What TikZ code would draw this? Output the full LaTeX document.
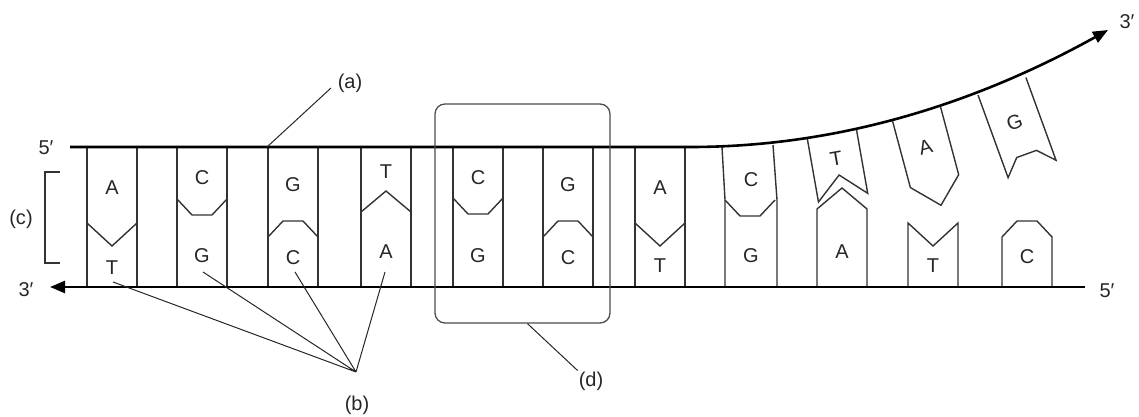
\documentclass[tikz,border=0pt]{standalone}
\usepackage{fontspec}
\setmainfont{Liberation Sans}
\usetikzlibrary{arrows.meta}
\begin{document}
\begin{tikzpicture}[x=1pt,y=-1pt,
  strand/.style={line width=2.6pt, black},
  base/.style={line width=1.4pt, black!80, line join=miter},
  leader/.style={line width=1pt, black!85},
  frame/.style={draw, line width=1.3pt, black!70, rounded corners=10pt},
  letter/.style={font=\fontsize{20}{24}\selectfont, inner sep=0pt, text=black!85},
  tag/.style={font=\fontsize{20}{24}\selectfont, inner sep=1pt, text=black!85},
  tip/.style={-{Triangle[length=15pt,width=12pt]}},
  vjoin/.pic={\draw[base] (0,0) -- (25,23) -- (50,0);},
  ljoin/.pic={\draw[base] (0,0) -- (25,-21) -- (50,0);},
  dnjoin/.pic={\draw[base] (0,0) -- (15,16) -- (35,16) -- (50,0);},
  upjoin/.pic={\draw[base] (0,0) -- (15,-16) -- (35,-16) -- (50,0);},
]
\useasboundingbox (0,0) rectangle (1139,417);

% paired columns: side walls
\foreach \x in {87,177,268,361,453,543,635}
  \draw[base] (\x,147) -- (\x,287) (\x+50,147) -- (\x+50,287);

% pairing interfaces
\pic at (87,223)  {vjoin};
\pic at (177,199) {dnjoin};
\pic at (268,237) {upjoin};
\pic at (361,212) {ljoin};
\pic at (453,198) {dnjoin};
\pic at (543,237) {upjoin};
\pic at (635,223) {vjoin};

% column where the strands begin to part
\draw[base] (722,147) -- (725,200) -- (725,287);
\draw[base] (773,145) -- (777,200) -- (777,287);
\pic at (725,200) {dnjoin};

% unpaired bases on the lower strand
\draw[base] (817,287) -- (817,209) -- (842,188) -- (867,209) -- (867,287);
\draw[base] (908,287) -- (908,223) -- (933,246) -- (958,223) -- (958,287);
\draw[base] (1002,287) -- (1002,237) -- (1017,221) -- (1037,221) -- (1052,237) -- (1052,287);

% unpaired bases hanging from the upper strand
\begin{scope}[shift={(807,137)}, rotate=10]
  \draw[base] (0,0) -- (0,66) -- (25,43) -- (50,66) -- (50,0);
  \node[letter, rotate=10] (u9) at (25,26) {T};
\end{scope}
\begin{scope}[shift={(892,119)}, rotate=15]
  \draw[base] (0,0) -- (0,71) -- (25,96) -- (50,71) -- (50,0);
  \node[letter, rotate=15] (u10) at (25,36) {A};
\end{scope}
\begin{scope}[shift={(978,95)}, rotate=20]
  \draw[base] (0,0) -- (0,88) -- (15,72) -- (36,72) -- (51,88) -- (51,0);
  \node[letter, rotate=20] (u11) at (25,38) {G};
\end{scope}

% base letters, upper strand
\node[letter] (u1) at (112,188) {A};
\node[letter] (u2) at (202,178) {C};
\node[letter] (u3) at (293,185) {G};
\node[letter] (u4) at (386,172) {T};
\node[letter] (u5) at (478,178) {C};
\node[letter] (u6) at (568,185) {G};
\node[letter] (u7) at (660,188) {A};
\node[letter] (u8) at (751,180) {C};

% base letters, lower strand
\node[letter] (d1) at (112,268) {T};
\node[letter] (d2) at (202,256) {G};
\node[letter] (d3) at (293,258) {C};
\node[letter] (d4) at (386,252) {A};
\node[letter] (d5) at (478,256) {G};
\node[letter] (d6) at (568,258) {C};
\node[letter] (d7) at (660,266) {T};
\node[letter] (d8) at (751,256) {G};
\node[letter] (d9) at (842,252) {A};
\node[letter] (d10) at (933,266) {T};
\node[letter] (d11) at (1027,257) {C};

% backbones
\coordinate (top5) at (70,147);
\coordinate (fork) at (690,147);
\coordinate (top3) at (1108,30);
\coordinate (bot5) at (1085,287);
\coordinate (bot3) at (50,287);
\draw[strand, tip] (top5) -- (fork) .. controls (860,147) and (1000,90) .. (top3);
\draw[strand, tip] (bot5) -- (bot3);

\node[tag] (e5a) at (46,148) {5′};
\node[tag] (e3a) at (1127,22) {3′};
\node[tag] (e3b) at (26,290) {3′};
\node[tag] (e5b) at (1107,291) {5′};

% (c): one base pair
\draw[base] (60,172) -- (45,172) -- (45,263) -- (60,263);
\node[tag] (tagc) at (21,219) {(c)};

% (d): boxed region
\node[frame, minimum width=175pt, minimum height=219pt] (boxd) at (522.5,213.5) {};
\node[tag] (tagd) at (591,381) {(d)};
\draw[leader] ([xshift=5pt]boxd.south) -- (tagd.north west);

% (a): sugar-phosphate backbone
\node[tag] (taga) at (350,83) {(a)};
\coordinate (a0) at (267,147);
\coordinate (a1) at (331,88);
\draw[leader] (a0) -- (a1);

% (b): nitrogenous bases
\node[tag] (tagb) at (357,405) {(b)};
\coordinate (hub) at (356,372);
\coordinate (bt) at (113,282);
\coordinate (bg) at (203,272);
\coordinate (bc) at (295,272);
\coordinate (ba) at (385,272);
\draw[leader] (bt) -- (hub) (bg) -- (hub) (bc) -- (hub) (ba) -- (hub);
\end{tikzpicture}
\end{document}
